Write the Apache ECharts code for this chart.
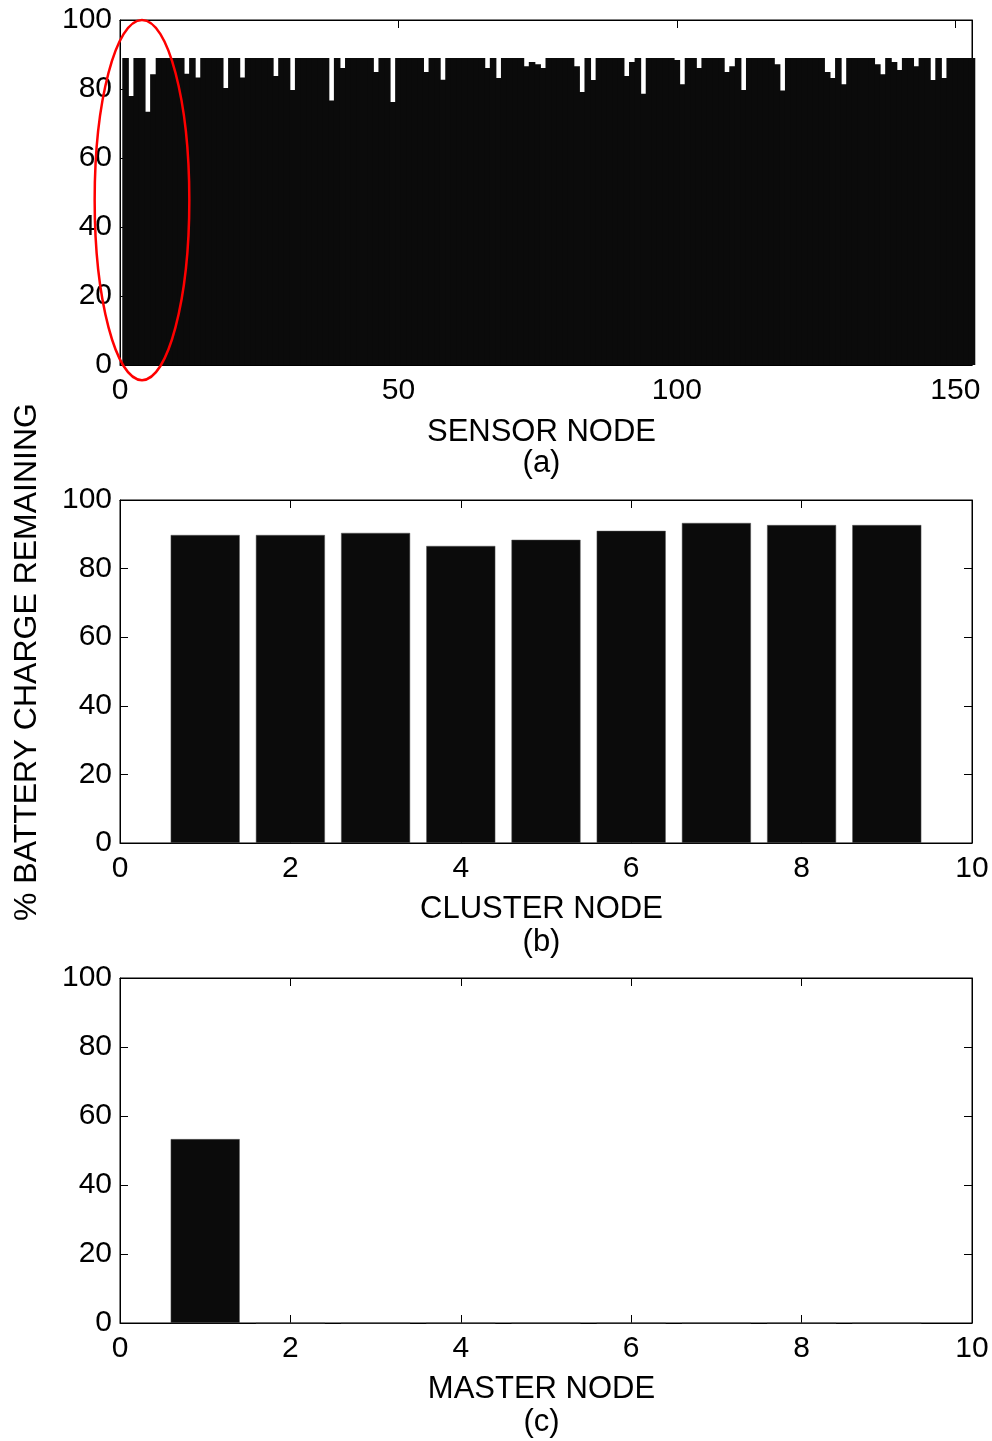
<!DOCTYPE html>
<html>
<head>
<meta charset="utf-8">
<script src="https://cdn.jsdelivr.net/npm/echarts@6/dist/echarts.min.js"></script>
<style>
  html, body { margin: 0; padding: 0; background: #fff; }
  #chart { width: 992px; height: 1441px; }
</style>
</head>
<body>
<div id="chart"></div>
<script>
// (a) sensor nodes 1..153
var sensorNodes = [];
for (var n = 1; n <= 153; n++) sensorNodes.push(n);
var sensorCharge = [
  89, 78, 89, 89, 73.4, 84.3, 89, 89, 89, 89, 89, 84.4, 89, 83.3, 89, 89, 89,
  89, 80.3, 89, 89, 83.3, 89, 89, 89, 89, 89, 83.8, 89, 89, 79.7, 89, 89, 89,
  89, 89, 89, 76.7, 89, 86.1, 89, 89, 89, 89, 89, 84.9, 89, 89, 76.2, 89, 89,
  89, 89, 89, 84.9, 89, 89, 82.7, 89, 89, 89, 89, 89, 89, 89, 86.1, 89, 83.2,
  89, 89, 89, 89, 86.6, 87.8, 87.2, 86.1, 89, 89, 89, 89, 89, 86.6, 79.1, 89, 82.6,
  89, 89, 89, 89, 89, 83.8, 87.8, 89, 78.6, 89, 89, 89, 89, 89, 88.4, 81.4, 89,
  89, 86.1, 89, 89, 89, 89, 84.9, 86.6, 89, 79.7, 89, 89, 89, 89, 89, 87.2, 79.6,
  89, 89, 89, 89, 89, 89, 89, 84.9, 83.2, 89, 81.4, 89, 89, 89, 89, 89, 87.2,
  84.3, 89, 87.8, 85.5, 89, 89, 86.6, 89, 89, 82.6, 89, 83.2, 89, 89, 89, 89, 89
];

// (b) cluster nodes, (c) master node
var clusterNodes = [1, 2, 3, 4, 5, 6, 7, 8, 9];
var clusterCharge = [89.8, 89.8, 90.4, 86.6, 88.4, 91.0, 93.3, 92.7, 92.7];
var masterNodes = [1, 2, 3, 4, 5, 6, 7, 8, 9];
var masterCharge = [53.3, 0, 0, 0, 0, 0, 0, 0, 0];

var xNames = ['SENSOR NODE\n(a)', 'CLUSTER NODE\n(b)', 'MASTER NODE\n(c)'];
var xRanges = [[0, 153, 50], [0, 10, 2], [0, 10, 2]];
var yLabel = '% BATTERY CHARGE REMAINING';

var font = 'Liberation Sans, Arial, sans-serif';
var barColor = '#0b0b0b';

var chart = echarts.init(document.getElementById('chart'));

var grids = [
  {left: 120, top: 20, width: 852, height: 345},
  {left: 120, top: 500, width: 852, height: 343},
  {left: 120, top: 978, width: 852, height: 345}
];
grids.forEach(function (g) {
  g.show = true; g.borderColor = '#000'; g.borderWidth = 1; g.backgroundColor = '#fff';
});

var nameGaps = [52, 50, 50];
var nameLines = [31, 33, 33];
var xAxes = [], yAxes = [];
var tick = {show: true, inside: true, length: 8, lineStyle: {color: '#000', width: 1}};
var line = {show: true, onZero: false, lineStyle: {color: '#000', width: 1}};
for (var i = 0; i < 3; i++) {
  var r = xRanges[i];
  var step = r[2];
  xAxes.push({
    type: 'value', gridIndex: i, position: 'bottom', min: r[0], max: r[1], interval: step,
    axisLine: line, axisTick: tick, splitLine: {show: false},
    axisLabel: {color: '#000', fontSize: 30, fontFamily: font, margin: 11,
      formatter: function (v) { return v % step === 0 ? String(v) : ''; }},
    name: xNames[i], nameLocation: 'middle', nameGap: nameGaps[i],
    nameTextStyle: {color: '#000', fontSize: 31, fontFamily: font,
      lineHeight: nameLines[i], padding: [0, 9, 0, 0]}
  });
  xAxes.push({
    type: 'value', gridIndex: i, position: 'top', min: r[0], max: r[1], interval: step,
    axisLine: line, axisTick: tick, axisLabel: {show: false}, splitLine: {show: false}
  });
  yAxes.push({
    type: 'value', gridIndex: i, position: 'left', min: 0, max: 100, interval: 20,
    axisLine: line, axisTick: tick, splitLine: {show: false},
    axisLabel: {color: '#000', fontSize: 30, fontFamily: font, margin: 8}
  });
  yAxes.push({
    type: 'value', gridIndex: i, position: 'right', min: 0, max: 100, interval: 20,
    axisLine: line, axisTick: tick, axisLabel: {show: false}, splitLine: {show: false}
  });
}

function pairs(xs, ys) {
  return xs.map(function (x, k) { return [x, ys[k]]; });
}

var yTitle = {
  type: 'text', x: 27, y: 662, rotation: Math.PI / 2,
  style: {text: yLabel, fill: '#000', fontSize: 32, fontFamily: font,
    align: 'center', verticalAlign: 'middle'}
};

chart.setOption({
  animation: false,
  backgroundColor: '#fff',
  grid: grids,
  xAxis: xAxes,
  yAxis: yAxes,
  series: [
    {
      // slightly overlapping bars, like the black bar edges of the original
      type: 'bar', xAxisIndex: 0, yAxisIndex: 0, barWidth: '118%', clip: true,
      data: pairs(sensorNodes, sensorCharge),
      itemStyle: {color: barColor}
    },
    {
      type: 'bar', xAxisIndex: 2, yAxisIndex: 2, barWidth: '81%',
      data: pairs(clusterNodes, clusterCharge),
      itemStyle: {color: barColor, borderColor: '#555', borderWidth: 0.5}
    },
    {
      type: 'bar', xAxisIndex: 4, yAxisIndex: 4, barWidth: '81%',
      data: pairs(masterNodes, masterCharge),
      itemStyle: {color: barColor, borderColor: '#555', borderWidth: 0.5}
    }
  ],
  graphic: [yTitle]
});

// red ellipse around the first sensor nodes, placed in data units
var c = chart.convertToPixel({xAxisIndex: 0, yAxisIndex: 0}, [3.95, 47.8]);
var e = chart.convertToPixel({xAxisIndex: 0, yAxisIndex: 0}, [3.95 + 8.5, 47.8 + 52.2]);
chart.setOption({
  graphic: [
    yTitle,
    {
      type: 'ellipse', z: 100,
      shape: {cx: c[0], cy: c[1], rx: Math.abs(e[0] - c[0]), ry: Math.abs(c[1] - e[1])},
      style: {fill: 'none', stroke: '#ff0000', lineWidth: 2.5}
    }
  ]
});
</script>
</body>
</html>
